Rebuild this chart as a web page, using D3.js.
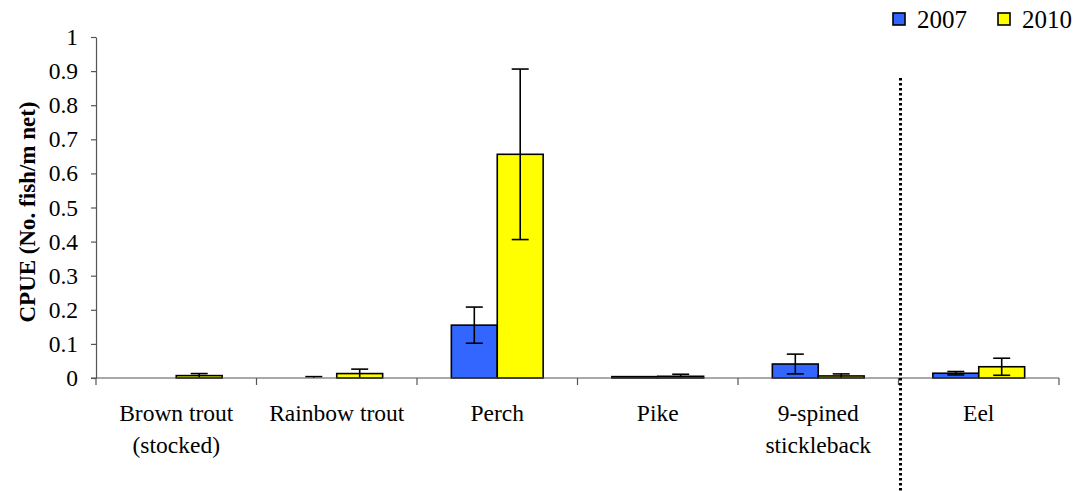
<!DOCTYPE html>
<html>
<head>
<meta charset="utf-8">
<script src="https://cdn.jsdelivr.net/npm/d3@7"></script>
<style>
  html, body { margin: 0; padding: 0; background: #fff; }
  svg { display: block; }
  svg text { font-family: "Liberation Serif", Tinos, "Times New Roman", "DejaVu Serif", serif !important; }
</style>
</head>
<body>
<svg id="chart" width="1084" height="491"></svg>
<script>
// Catch per unit effort by species and survey year
const species = ["Brown trout (stocked)", "Rainbow trout", "Perch", "Pike", "9-spined stickleback", "Eel"];
const speciesLines = [["Brown trout", "(stocked)"], ["Rainbow trout"], ["Perch"], ["Pike"], ["9-spined", "stickleback"], ["Eel"]];
const years = ["2007", "2010"];
const cpue2007 = [0, 0, 0.155, 0.004, 0.041, 0.014];
const err2007 = [0, 0.004, 0.053, 0, 0.029, 0.005];
const cpue2010 = [0.007, 0.013, 0.656, 0.005, 0.006, 0.033];
const err2010 = [0.006, 0.013, 0.25, 0.006, 0.006, 0.025];
const yTicks = [0, 0.1, 0.2, 0.3, 0.4, 0.5, 0.6, 0.7, 0.8, 0.9, 1];
const colors = { "2007": "#3366ff", "2010": "#ffff00" };

const svg = d3.select("#chart");
const margin = { left: 96, right: 25, top: 37, bottom: 113 };
const W = 1084, H = 491;

const x = d3.scaleBand().domain(species).range([margin.left, W - margin.right]).paddingInner(0).paddingOuter(0);
const y = d3.scaleLinear().domain([0, 1]).range([H - margin.bottom, margin.top]);

const barW = x.bandwidth() * 0.286;

const rows = species.map((s, i) => years.map((yr, j) => ({
  species: s, year: yr, j,
  value: j === 0 ? cpue2007[i] : cpue2010[i],
  err: j === 0 ? err2007[i] : err2010[i]
}))).flat();

const bx = d => x(d.species) + x.bandwidth() / 2 + (d.j - 1) * barW;

// Bars
svg.append("g").selectAll("rect").data(rows.filter(d => d.value > 0)).join("rect")
  .attr("x", bx)
  .attr("y", d => y(d.value))
  .attr("width", barW)
  .attr("height", d => y(0) - y(d.value))
  .attr("fill", d => colors[d.year])
  .attr("stroke", "#000")
  .attr("stroke-width", 1.6);

// Error bars
const eg = svg.append("g").attr("stroke", "#000").attr("stroke-width", 1.6);
rows.filter(d => d.err > 0).forEach(d => {
  const cx = bx(d) + barW / 2;
  const lo = Math.max(0, d.value - d.err), hi = d.value + d.err;
  eg.append("line").attr("x1", cx).attr("x2", cx).attr("y1", y(lo)).attr("y2", y(hi));
  eg.append("line").attr("x1", cx - 8.5).attr("x2", cx + 8.5).attr("y1", y(hi)).attr("y2", y(hi));
  if (d.value - d.err > 0.001) {
    eg.append("line").attr("x1", cx - 8.5).attr("x2", cx + 8.5).attr("y1", y(lo)).attr("y2", y(lo));
  }
});

// Y axis
const yAxis = svg.append("g").attr("transform", `translate(${margin.left},0)`)
  .call(d3.axisLeft(y).tickValues(yTicks).tickFormat(d => d === 0 ? "0" : d === 1 ? "1" : d3.format(".1f")(d)).tickSize(5).tickSizeOuter(0).tickPadding(13));
yAxis.select(".domain").attr("stroke", "#555").attr("stroke-width", 1.2);
yAxis.selectAll(".tick line").attr("stroke", "#555").attr("stroke-width", 1.2);
yAxis.selectAll(".tick text").attr("font-size", 23.5).attr("fill", "#000");

// X axis line and category dividers
const xg = svg.append("g");
xg.append("line").attr("x1", margin.left - 5).attr("x2", W - margin.right)
  .attr("y1", y(0)).attr("y2", y(0)).attr("stroke", "#555").attr("stroke-width", 1.2);
const bounds = species.map(s => x(s)).concat([x(species[species.length - 1]) + x.bandwidth()]);
xg.selectAll("line.div").data(bounds).join("line").attr("class", "div")
  .attr("x1", d => d).attr("x2", d => d)
  .attr("y1", y(0)).attr("y2", y(0) + 7)
  .attr("stroke", "#555").attr("stroke-width", 1.2);

// Category labels
const lab = svg.append("g").attr("font-size", 23.5).attr("text-anchor", "middle").attr("fill", "#000");
speciesLines.forEach((lines, i) => {
  const t = lab.append("text").attr("x", x(species[i]) + x.bandwidth() / 2).attr("y", 421);
  lines.forEach((ln, k) => t.append("tspan").attr("x", x(species[i]) + x.bandwidth() / 2).attr("dy", k === 0 ? 0 : 32).text(ln));
});

// Divider separating eel from the other species
const divX = x("Eel") + 2;
svg.append("line").attr("x1", divX).attr("x2", divX).attr("y1", 78).attr("y2", 491)
  .attr("stroke", "#000").attr("stroke-width", 3).attr("stroke-dasharray", "2.5,2.5");

// Y axis title
svg.append("text")
  .attr("transform", `translate(35,212) rotate(-90)`)
  .attr("text-anchor", "middle").attr("font-weight", "bold").attr("font-size", 23)
  .text("CPUE (No. fish/m net)");

// Legend
const leg = svg.append("g");
const legX = [893, 998];
years.forEach((yr, i) => {
  leg.append("rect").attr("x", legX[i]).attr("y", 13).attr("width", 12).attr("height", 12)
    .attr("fill", colors[yr]).attr("stroke", "#000").attr("stroke-width", 1.6);
  leg.append("text").attr("x", legX[i] + 24).attr("y", 28).attr("font-size", 25).text(yr);
});
</script>
</body>
</html>
